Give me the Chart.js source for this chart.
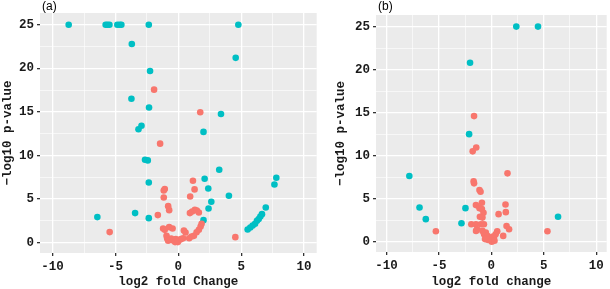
<!DOCTYPE html>
<html>
<head>
<meta charset="utf-8">
<script src="https://cdn.jsdelivr.net/npm/chart.js@4.4.1/dist/chart.umd.min.js"></script>
<style>
  body { margin: 0; background: #fff; width: 610px; height: 289px; position: relative; overflow: hidden; }
  #chart-a { position: absolute; left: 0; top: 0; }
  #chart-b { position: absolute; left: 333px; top: 0; }
</style>
</head>
<body>
<canvas id="chart-a" width="320" height="289"></canvas>
<canvas id="chart-b" width="277" height="289"></canvas>
<script>
// tick values (majors get labels, minors only a thin grid line)
const xMajor = [-10, -5, 0, 5, 10];
const xMinor = [-7.5, -2.5, 2.5, 7.5];
const yMajor = [0, 5, 10, 15, 20, 25];
const yMinor = [2.5, 7.5, 12.5, 17.5, 22.5];

// panel (a)
const aCyanX = [-8.72, -5.78, -5.64, -5.48, -4.85, -4.66, -4.53, -2.35, 4.77,
  -3.7, 4.56, -2.25, -3.73, -2.33, 3.39, -2.93, -3.17, 2.0,
  -2.65, -2.43, -2.35, -6.44, -3.44, -2.35,
  3.25, 7.79, 7.64, 2.09, 2.38, 4.02, 2.62, 2.4, 6.95,
  6.65, 6.52, 6.39, 6.25, 6.1, 5.91, 5.72, 5.51, 2.0];
const aCyanY = [25, 25, 25, 25, 25, 25, 25, 25, 25,
  22.8, 21.2, 19.7, 16.5, 15.5, 14.75, 13.4, 13.0, 12.7,
  9.5, 9.43, 6.9, 2.92, 3.38, 2.8,
  8.36, 7.44, 6.67, 7.32, 6.2, 5.37, 4.68, 3.91, 4.02,
  3.26, 2.99, 2.69, 2.49, 2.15, 1.95, 1.72, 1.49, 2.57];
const aRedX = [-1.93, 1.74, -1.45, -5.46, -1.63, 1.16, 1.29, -1.08, -1.16, -1.16,
  0.94, -0.81, -0.73, 0.92, 1.1, 1.31, 1.47, 1.63, 4.53, -1.21,
  -1.08, -0.73, -0.46, -0.94, -0.89, -0.81, -0.57, -0.41, -0.2, 0.02,
  0.2, 0.38, -0.26, -0.04, 0.44, 0.57, 0.86, 1.05, 1.24, 1.45,
  1.63, 1.77, 1.85];
const aRedY = [17.55, 14.95, 11.35, 1.2, 3.15, 7.09, 6.1, 6.14, 5.98, 5.17,
  5.29, 4.18, 3.72, 3.38, 3.56, 3.76, 3.68, 3.45, 0.62, 1.61,
  1.46, 1.77, 1.61, 0.77, 0.46, 0.2, 0.46, 0.23, 0.39, 0.23,
  0.39, 0.5, 0.05, 0.05, 1.38, 1.15, 0.5, 0.69, 0.77, 1.19,
  1.46, 1.84, 2.15];

// panel (b)
const bCyanX = [2.38, 4.45, -2.03, -2.12, -2.47, -2.85, 6.36, -7.82, -6.85, -6.25];
const bCyanY = [25, 25, 20.8, 12.5, 3.9, 2.15, 2.89, 7.64, 3.97, 2.62];
const bRedX = [-1.65, -1.44, -1.78, 1.54, -1.69, -1.65, -1.13, -1.03, 5.35, 1.35,
  1.38, 0.69, -1.47, -0.9, -1.13, -0.9, -0.75, -1.09, -0.85, -1.91,
  -1.47, -1.37, -1.0, -0.71, 1.45, 1.69, 0.56, 1.13, -0.85, -0.69,
  -0.53, -0.38, -0.47, -0.22, -0.06, 0.09, 0.25, 0.04, 0.41, -5.29,
  -1.46, -0.3, 0.15, -0.6, 0.3];
const bRedY = [14.6, 10.95, 10.5, 7.94, 7.01, 6.78, 6.0, 5.8, 1.21, 4.32,
  3.43, 3.2, 4.25, 4.52, 3.9, 3.79, 3.35, 2.89, 2.8, 2.03,
  2.03, 1.45, 2.03, 2.03, 1.83, 1.45, 1.21, 0.67, 1.25, 0.86,
  1.05, 0.67, 0.4, 0.47, 0.16, 0.28, 0.47, 0.0, 0.86, 1.21,
  1.25, 0.2, 0.6, 0.3, 0.1];

const RED = '#F8766D';
const CYAN = '#00BFC4';
const monoFont = { family: '"Liberation Mono", "DejaVu Sans Mono", monospace', size: 12.5, weight: 'bold' };

function toPoints(xs, ys) {
  return xs.map((x, i) => ({ x: x, y: ys[i] }));
}

// grey panel + (a)/(b) tag
const panelBg = {
  id: 'panelBg',
  beforeDraw(chart, args, opts) {
    const ctx = chart.ctx;
    const a = chart.chartArea;
    ctx.save();
    ctx.fillStyle = '#EBEBEB';
    ctx.fillRect(a.left, a.top, a.right - a.left, a.bottom - a.top);
    ctx.fillStyle = '#000';
    ctx.font = '12px "Liberation Sans", Arial, sans-serif';
    ctx.textBaseline = 'top';
    ctx.fillText(opts.tag, a.left + 2, 1);
    ctx.restore();
  }
};

function makeScale(majors, minors, min, max, title, fitSize, vertical) {
  const all = majors.concat(minors).sort((p, q) => p - q);
  return {
    type: 'linear',
    min: min,
    max: max,
    afterBuildTicks: s => { s.ticks = all.map(v => ({ value: v })); },
    afterFit: s => {
      if (vertical) s.width = fitSize;
      else s.height = fitSize;
    },
    ticks: {
      autoSkip: false,
      maxRotation: 0,
      padding: 3,
      color: '#1a1a1a',
      font: monoFont,
      callback: v => majors.includes(v) ? String(v) : ''
    },
    grid: {
      color: '#ffffff',
      lineWidth: c => (c.tick && majors.includes(c.tick.value)) ? 1.3 : 0.6,
      tickColor: c => (c.tick && majors.includes(c.tick.value)) ? '#333333' : 'rgba(0,0,0,0)',
      tickLength: 3,
      drawTicks: true
    },
    border: { display: false },
    title: {
      display: true,
      text: title,
      color: '#1a1a1a',
      font: monoFont,
      padding: { top: 0, bottom: 0 }
    }
  };
}

function makeChart(id, tag, red, cyan, xTitle, yWidth, xHeight, pad) {
  return new Chart(document.getElementById(id), {
    type: 'scatter',
    data: {
      datasets: [
        { data: red, backgroundColor: RED, borderWidth: 0, pointRadius: 3.3, pointHoverRadius: 3.3 },
        { data: cyan, backgroundColor: CYAN, borderWidth: 0, pointRadius: 3.3, pointHoverRadius: 3.3 }
      ]
    },
    options: {
      responsive: false,
      animation: false,
      layout: { padding: pad },
      plugins: {
        legend: { display: false },
        tooltip: { enabled: false },
        panelBg: { tag: tag }
      },
      scales: {
        x: makeScale(xMajor, xMinor, -11, 11, xTitle, xHeight, false),
        y: makeScale(yMajor, yMinor, -1.2, 26.35, '\u2212log10 p-value', yWidth, true)
      }
    },
    plugins: [panelBg]
  });
}

makeChart('chart-a', '(a)', toPoints(aRedX, aRedY), toPoints(aCyanX, aCyanY),
  'log2 fold Change', 40, 36, { top: 13, right: 3, bottom: 0, left: 0 });
makeChart('chart-b', '(b)', toPoints(bRedX, bRedY), toPoints(bCyanX, bCyanY),
  'log2 fold change', 43, 37, { top: 15, right: 1, bottom: 0, left: 0 });
</script>
</body>
</html>
